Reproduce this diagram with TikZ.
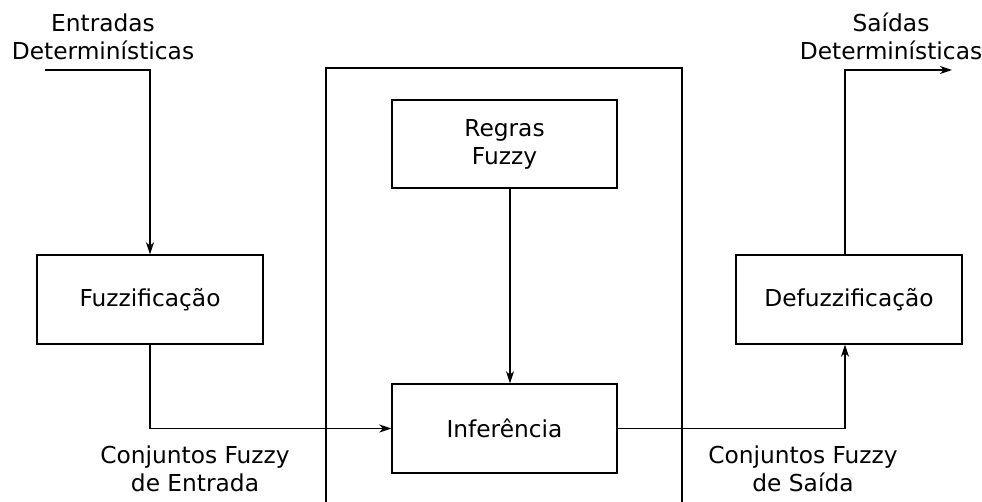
\documentclass[tikz,border=0pt]{standalone}
\usepackage{fontspec}
\setmainfont{DejaVu Sans}
\usetikzlibrary{arrows.meta}
\begin{document}
\begin{tikzpicture}[x=1pt,y=-1pt,
  box/.style={draw,line width=1.4pt,minimum width=226pt,minimum height=89pt,inner sep=0pt},
  lbl/.style={align=center,inner sep=0pt,font=\fontsize{23.3}{28}\selectfont},
  conn/.style={line width=1.4pt},
  arr/.style={conn,-{Stealth[length=12pt,width=8pt,inset=3.5pt]}},
  every node/.append style={font=\fontsize{23.3}{28}\selectfont}]
\useasboundingbox (0,0) rectangle (982,502);
% big frame
\draw[conn] (326,502) -- (326,68) -- (682,68) -- (682,502);
% boxes
\node[box] (fuz) at (150,299.5) {Fuzzificação};
\node[box,minimum width=225pt,minimum height=88pt,align=center] (reg) at (504.5,144) {Regras\\Fuzzy};
\node[box,minimum width=225pt] (inf) at (504.5,428.5) {Inferência};
\node[box] (def) at (849,299.5) {Defuzzificação};
% labels
\node[lbl] (ent) at (103,36.5) {Entradas\\Determinísticas};
\node[lbl] (sai) at (891,36.5) {Saídas\\Determinísticas};
\node[lbl] (cfe) at (195,469) {Conjuntos Fuzzy\\de Entrada};
\node[lbl] (cfs) at (803,469) {Conjuntos Fuzzy\\de Saída};
% connectors
\coordinate (in0) at (45,70);
\coordinate (out1) at (952,70);
\draw[arr] (in0) -| (fuz.north);
\draw[arr] (reg.south -| 510,0) -- (inf.north -| 510,0);
\draw[arr] (fuz.south) |- (inf.west);
\draw[arr] (inf.east) -| (def.south -| 845,0);
\draw[arr] (def.north -| 845,0) |- (out1);
\end{tikzpicture}
\end{document}
